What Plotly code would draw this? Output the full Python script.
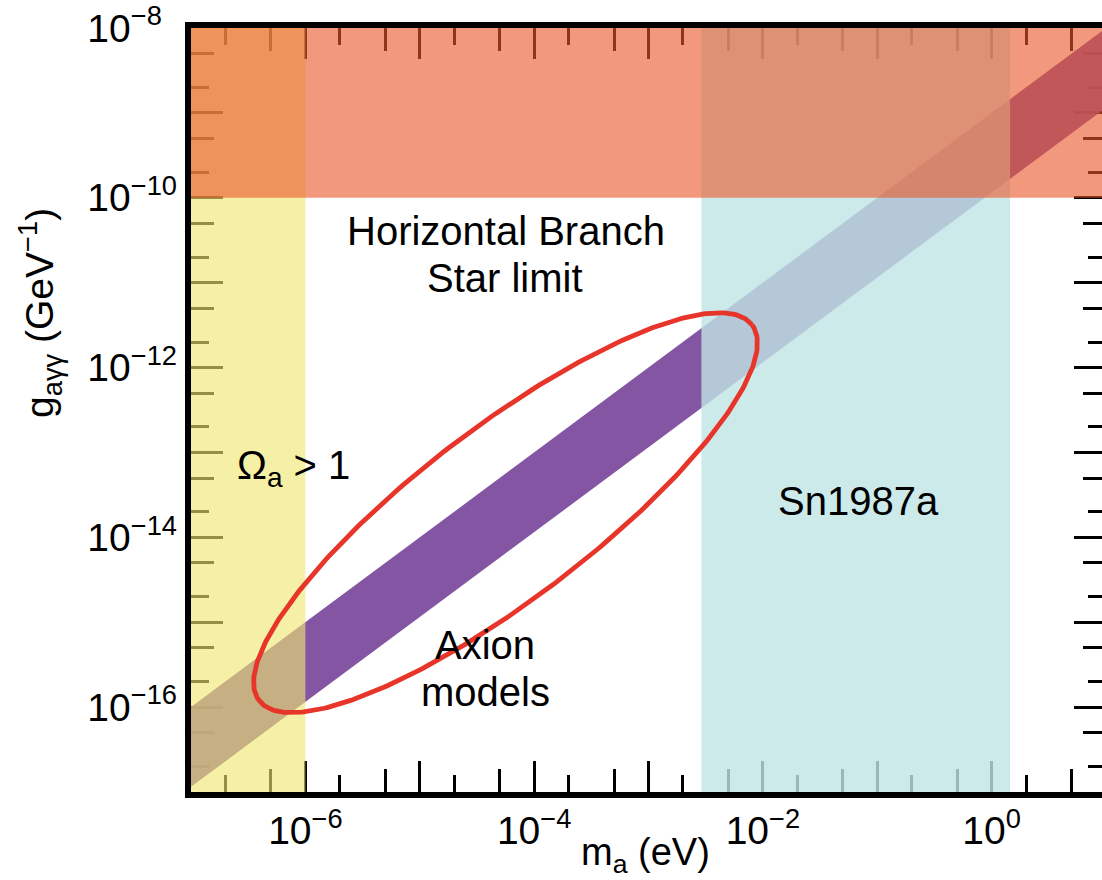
import numpy as np
import plotly.graph_objects as go

# ---------------- data ----------------
x_range_log = [-7, 1]          # log10(m_a / eV)
y_range_log = [-17, -8]        # log10(g / GeV^-1)

omega_m = [1e-7, 1e-6]         # Omega_a > 1 excluded region (m_a)
omega_g = [1e-17, 1e-8]
sn_m = [2.9e-3, 1.45]          # SN1987a excluded region (m_a)
sn_g = [1e-17, 1e-8]
hb_m = [1e-7, 1e1]             # Horizontal-branch star limit (g)
hb_g = [1e-10, 1e-8]

axion_m = [1e-7, 1e1]          # axion model band
axion_g_upper = [1e-16, 1e-8]
axion_g_lower = [1.15e-17, 1.15e-9]

# highlight ellipse (log-space centre and semi-axis vectors, in decades)
ell_center = (-4.25, -13.71)
ell_u = (2.155, 2.213)
ell_v = (-0.456, 0.806)

x_label_exp = [-6, -4, -2, 0]
x_label_txt = ["10<sup>−6</sup>", "10<sup>−4</sup>", "10<sup>−2</sup>", "10<sup>0</sup>"]
x_other_exp = [-7, -5, -3, -1, 1]
y_label_exp = [-16, -14, -12, -10, -8]
y_label_txt = ["10<sup>−16</sup>", "10<sup>−14</sup>", "10<sup>−12</sup>",
               "10<sup>−10</sup>", "10<sup>−8\u00a0\u00a0</sup>"]
y_other_exp = [-17, -15, -13, -11, -9]

x_decades = [10.0 ** e for e in range(-7, 2)]
y_decades = [10.0 ** e for e in range(-17, -7)]
x_two = [2 * v for v in x_decades]
x_five = [5 * v for v in x_decades]
y_two = [2 * v for v in y_decades]
y_five = [5 * v for v in y_decades]

FONT = "Liberation Sans, Arial, Helvetica, sans-serif"

# ---------------- figure ----------------
fig = go.Figure()


def rect(mx, gy, color):
    fig.add_trace(go.Scatter(
        x=[mx[0], mx[1], mx[1], mx[0], mx[0]],
        y=[gy[0], gy[0], gy[1], gy[1], gy[0]],
        mode="lines", line=dict(width=0), fill="toself", fillcolor=color,
        hoverinfo="skip", showlegend=False))


# axion band
fig.add_trace(go.Scatter(
    x=axion_m + axion_m[::-1], y=axion_g_upper + axion_g_lower[::-1],
    mode="lines", line=dict(width=0), fill="toself",
    fillcolor="rgba(121,70,155,0.92)", hoverinfo="skip", showlegend=False))

rect(omega_m, omega_g, "rgba(239,231,110,0.62)")
rect(sn_m, sn_g, "rgba(193,229,229,0.80)")
rect(hb_m, hb_g, "rgba(234,89,42,0.61)")

# ellipse outline
t = np.linspace(0, 2 * np.pi, 400)
ex = ell_center[0] + ell_u[0] * np.cos(t) + ell_v[0] * np.sin(t)
ey = ell_center[1] + ell_u[1] * np.cos(t) + ell_v[1] * np.sin(t)
fig.add_trace(go.Scatter(x=10 ** ex, y=10 ** ey, mode="lines",
                         line=dict(color="#E8352A", width=4.8),
                         hoverinfo="skip", showlegend=False))

# empty traces so that the extra tick / frame axes get drawn
for k in (2, 3, 4, 5):
    fig.add_trace(go.Scatter(x=[None], y=[None], xaxis=f"x{k}", yaxis="y",
                             hoverinfo="skip", showlegend=False))
    fig.add_trace(go.Scatter(x=[None], y=[None], xaxis="x", yaxis=f"y{k}",
                             hoverinfo="skip", showlegend=False))

W, H = 1130, 880
PL, PR, PT, PB = 191, 1106, 28, 792

common = dict(type="log", showgrid=False, zeroline=False, ticks="inside",
              tickcolor="black", tickwidth=3, mirror="ticks", automargin=False,
              layer="below traces", tickmode="array")
xo = dict(range=x_range_log, showticklabels=False, overlaying="x", anchor="y")
yo = dict(range=y_range_log, showticklabels=False, overlaying="y", anchor="x")

fig.update_layout(
    width=W, height=H,
    margin=dict(l=PL, r=W - PR, t=PT, b=H - PB),
    paper_bgcolor="white", plot_bgcolor="white",
    font=dict(family=FONT, color="black"),
    showlegend=False,
    xaxis=dict(**common, range=x_range_log, tickvals=[10.0 ** e for e in x_label_exp],
               ticktext=x_label_txt, ticklen=31, tickfont=dict(size=39),
               ticklabelstandoff=12),
    xaxis5=dict(**common, **xo, tickvals=[10.0 ** e for e in x_other_exp], ticklen=31),
    xaxis3=dict(**common, **xo, tickvals=x_two, ticklen=17),
    xaxis4=dict(**common, **xo, tickvals=x_five, ticklen=23),
    xaxis2=dict(type="log", **xo, showgrid=False, zeroline=False, automargin=False,
                showline=True, linewidth=6, linecolor="black", mirror=True,
                ticks="", layer="above traces"),
    yaxis=dict(**common, range=y_range_log, tickvals=[10.0 ** e for e in y_label_exp],
               ticktext=y_label_txt, ticklen=32, tickfont=dict(size=39),
               ticklabelstandoff=13),
    yaxis5=dict(**common, **yo, tickvals=[10.0 ** e for e in y_other_exp], ticklen=32),
    yaxis3=dict(**common, **yo, tickvals=y_two, ticklen=18),
    yaxis4=dict(**common, **yo, tickvals=y_five, ticklen=23),
    yaxis2=dict(type="log", **yo, showgrid=False, zeroline=False, automargin=False,
                showline=True, linewidth=6, linecolor="black", mirror=True,
                ticks="", layer="above traces"),
)

labels = [
    ("Horizontal Branch", -4.246, -10.391, "center"),
    ("Star limit", -4.255, -10.945, "center"),
    ("Ω<sub>a</sub> > 1", -6.615, -13.183, "left"),
    ("Sn1987a", -1.160, -13.572, "center"),
    ("Axion", -4.429, -15.268, "center"),
    ("models", -4.429, -15.822, "center"),
]
for txt, lx, ly, anc in labels:
    fig.add_annotation(x=lx, y=ly, xref="x", yref="y", text=txt, showarrow=False,
                       xanchor=anc, yanchor="middle", font=dict(size=40, color="black"))

# axis titles
fig.add_annotation(x=(645 - PL) / (PR - PL), y=(PB - 855) / (PB - PT), xref="paper", yref="paper",
                   text="m<sub>a</sub> (eV)", showarrow=False,
                   xanchor="center", yanchor="middle", font=dict(size=38, color="black"))
fig.add_annotation(x=(40 - PL) / (PR - PL), y=(PB - 313) / (PB - PT), xref="paper", yref="paper",
                   text="g<sub>aγγ</sub> (GeV<sup>−1</sup>)", textangle=-90, showarrow=False,
                   xanchor="center", yanchor="middle", font=dict(size=39, color="black"))

fig.write_html("out.html", post_script=(
    "document.documentElement.style.overflow='hidden';"
    "document.body.style.overflow='hidden';document.body.style.margin='0';"))
